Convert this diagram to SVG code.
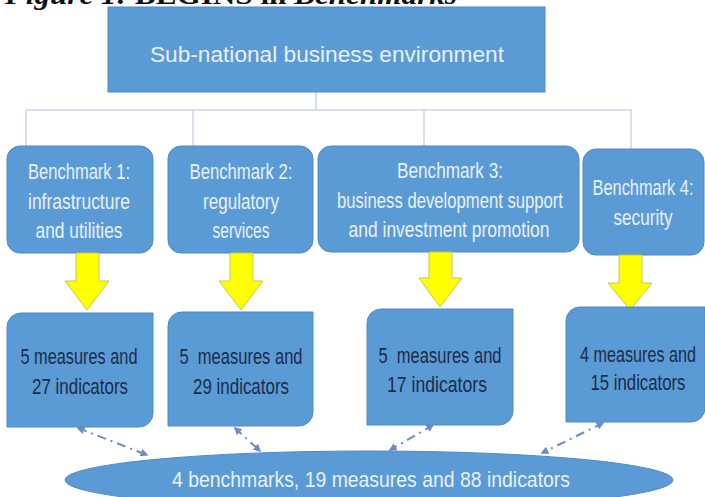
<svg xmlns="http://www.w3.org/2000/svg" width="705" height="497" viewBox="0 0 705 497">
<defs>
<style>
.box{fill:#5b9bd5;stroke:#4f8ac4;stroke-width:1}
.lt{fill:#e8f0fb;font-family:"Liberation Sans",Arial,sans-serif;font-size:22px;text-anchor:middle}
.dk{fill:#1c2b4a;font-family:"Liberation Sans",Arial,sans-serif;font-size:22px;text-anchor:middle}
.tree{stroke:#c9d6e3;stroke-width:1.5;fill:none}
.dd{stroke:#6c8dbf;stroke-width:2;fill:none;stroke-dasharray:9 5 2 5;marker-start:url(#ah);marker-end:url(#ah)}
.ya{fill:#ffff00;stroke:#c8c850;stroke-width:1}
.cap{font-family:"Liberation Serif","Times New Roman",serif;font-size:27px;font-weight:bold;fill:#111}
</style>
<marker id="ah" viewBox="0 0 10 10" refX="8" refY="5" markerWidth="4" markerHeight="4" orient="auto-start-reverse">
<path d="M0,0 L10,5 L0,10 z" fill="#6c8dbf"/>
</marker>
</defs>
<rect width="705" height="497" fill="#ffffff"/>

<text class="cap" x="5" y="4" textLength="452" lengthAdjust="spacingAndGlyphs"><tspan font-style="italic">Figure 1: </tspan><tspan>BEGINS in </tspan><tspan font-style="italic">Benchmarks</tspan></text>

<g id="connectors">
<path class="tree" d="M316,92 V110 M26,110 H632 M26,110 V146 M193,110 V146 M424,110 V146 M631,110 V149"/>
<path class="dd" d="M78,428 L147,455"/>
<path class="dd" d="M235,428 L260,451"/>
<path class="dd" d="M433,425 L390,450"/>
<path class="dd" d="M603,423 L542,453"/>
</g>

<g id="top">
<rect class="box" x="108" y="7" width="437" height="85"/>
<text class="lt" x="327" y="62" font-size="33" textLength="354" lengthAdjust="spacingAndGlyphs">Sub-national business environment</text>
</g>

<g id="bm1">
<rect class="box" x="7" y="146" width="146" height="107" rx="13"/>
<text class="lt" x="79" y="179" textLength="102" lengthAdjust="spacingAndGlyphs">Benchmark 1:</text>
<text class="lt" x="79" y="209" textLength="102" lengthAdjust="spacingAndGlyphs">infrastructure</text>
<text class="lt" x="79" y="238" textLength="87" lengthAdjust="spacingAndGlyphs">and utilities</text>
</g>
<g id="bm2">
<rect class="box" x="168" y="146" width="145" height="107" rx="13"/>
<text class="lt" x="241" y="179" textLength="103" lengthAdjust="spacingAndGlyphs">Benchmark 2:</text>
<text class="lt" x="241" y="209" textLength="76" lengthAdjust="spacingAndGlyphs">regulatory</text>
<text class="lt" x="241" y="238" textLength="57" lengthAdjust="spacingAndGlyphs">services</text>
</g>
<g id="bm3">
<rect class="box" x="318" y="146" width="261" height="106" rx="13"/>
<text class="lt" x="450" y="178" textLength="106" lengthAdjust="spacingAndGlyphs">Benchmark 3:</text>
<text class="lt" x="450" y="208" textLength="226" lengthAdjust="spacingAndGlyphs">business development support</text>
<text class="lt" x="449" y="237" textLength="201" lengthAdjust="spacingAndGlyphs">and investment promotion</text>
</g>
<g id="bm4">
<rect class="box" x="583" y="149" width="121" height="106" rx="13"/>
<text class="lt" x="643" y="195" textLength="101" lengthAdjust="spacingAndGlyphs">Benchmark 4:</text>
<text class="lt" x="643" y="225" textLength="59" lengthAdjust="spacingAndGlyphs">security</text>
</g>

<g id="arrows">
<path class="ya" d="M76,253 H99 V281 H109 L87,310 L65,281 H76 Z"/>
<path class="ya" d="M230,253 H253 V281 H263 L241,310 L219,281 H230 Z"/>
<path class="ya" d="M429,252 H452 V278 H462 L440,307 L419,278 H429 Z"/>
<path class="ya" d="M619,255 H642 V283 H652 L630,310 L608,283 H619 Z"/>
</g>

<g id="m1">
<path class="box" d="M21,313 H153 V413 A14,14 0 0 1 139,427 H7 V327 A14,14 0 0 1 21,313 Z"/>
<text class="dk" x="79" y="364" textLength="117" lengthAdjust="spacingAndGlyphs">5 measures and</text>
<text class="dk" x="80" y="394" textLength="96" lengthAdjust="spacingAndGlyphs">27 indicators</text>
</g>
<g id="m2">
<path class="box" d="M182,312 H313 V412 A14,14 0 0 1 299,426 H168 V326 A14,14 0 0 1 182,312 Z"/>
<text class="dk" x="241" y="364" textLength="123" lengthAdjust="spacingAndGlyphs" xml:space="preserve">5  measures and</text>
<text class="dk" x="241" y="394" textLength="96" lengthAdjust="spacingAndGlyphs">29 indicators</text>
</g>
<g id="m3">
<path class="box" d="M381,309 H513 V411 A14,14 0 0 1 499,425 H367 V323 A14,14 0 0 1 381,309 Z"/>
<text class="dk" x="440" y="363" textLength="123" lengthAdjust="spacingAndGlyphs" xml:space="preserve">5  measures and</text>
<text class="dk" x="437" y="392" textLength="100" lengthAdjust="spacingAndGlyphs">17 indicators</text>
</g>
<g id="m4">
<path class="box" d="M580,307 H705 V408 A14,14 0 0 1 691,422 H566 V321 A14,14 0 0 1 580,307 Z"/>
<text class="dk" x="638" y="362" textLength="116" lengthAdjust="spacingAndGlyphs">4 measures and</text>
<text class="dk" x="638" y="390" textLength="95" lengthAdjust="spacingAndGlyphs">15 indicators</text>
</g>

<g id="total">
<ellipse class="box" cx="369" cy="480" rx="304" ry="29"/>
<text class="lt" x="371" y="487" font-size="25" textLength="398" lengthAdjust="spacingAndGlyphs">4 benchmarks, 19 measures and 88 indicators</text>
</g>
</svg>
